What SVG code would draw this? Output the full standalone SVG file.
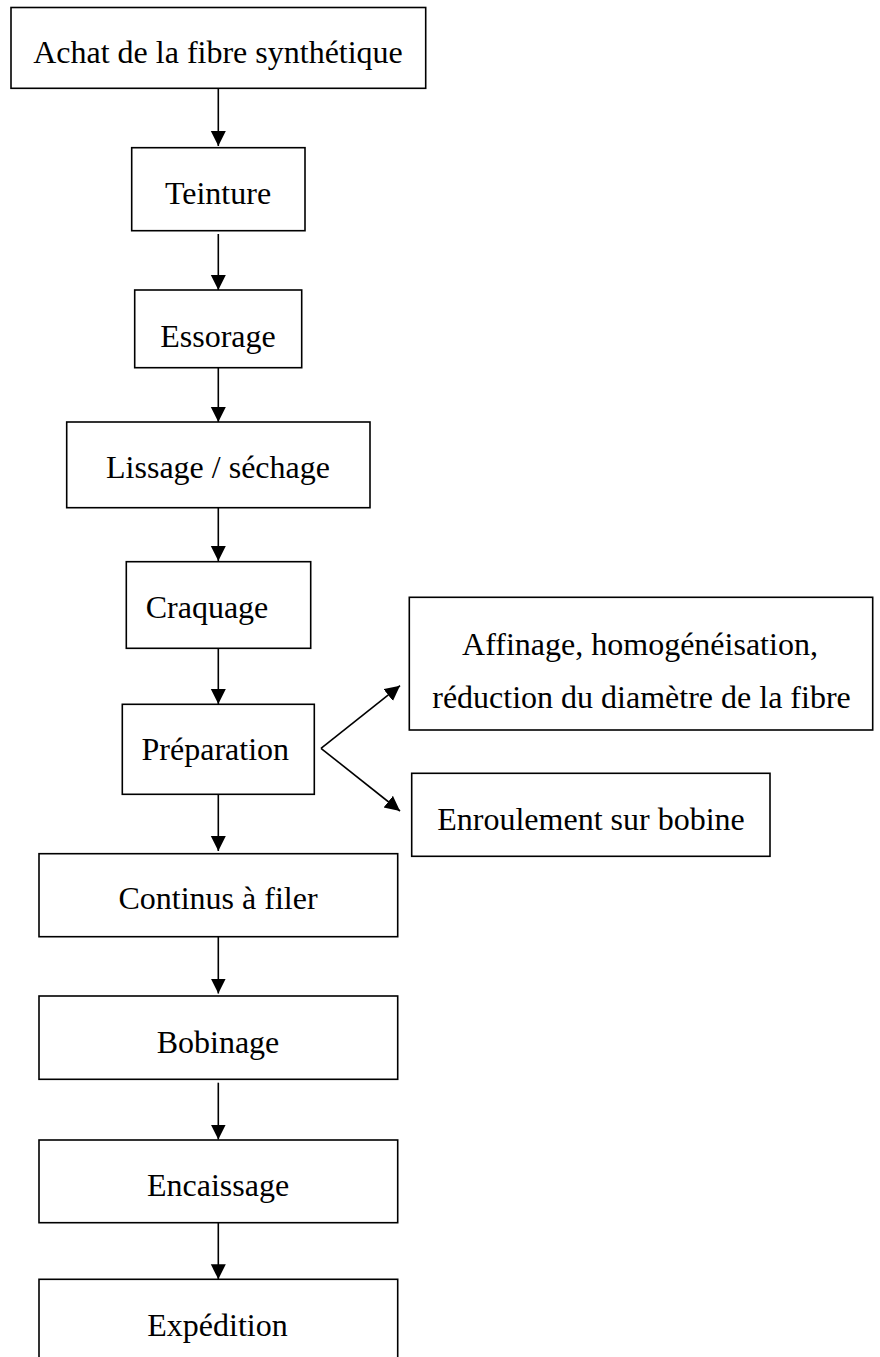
<svg xmlns="http://www.w3.org/2000/svg" width="880" height="1357" viewBox="0 0 880 1357">
<style>
.box{fill:#fff;stroke:#000;stroke-width:1.6}
.lbl{font-family:"Liberation Serif","Times New Roman",serif;font-size:32px;fill:#000;text-anchor:middle}
.con{stroke:#000;stroke-width:1.6;fill:none}
</style>
<defs>
<marker id="ah" markerUnits="userSpaceOnUse" markerWidth="16" markerHeight="16" viewBox="0 0 16 16" refX="15" refY="7.5" orient="auto">
<path d="M0,0 L15,7.5 L0,15 z" fill="#000"/>
</marker>
</defs>
<rect width="880" height="1357" fill="#fff"/>
<g id="connectors">
<line class="con" x1="218.3" y1="88.3" x2="218.3" y2="146" marker-end="url(#ah)"/>
<line class="con" x1="218.3" y1="234" x2="218.3" y2="290" marker-end="url(#ah)"/>
<line class="con" x1="218.3" y1="367.7" x2="218.3" y2="422" marker-end="url(#ah)"/>
<line class="con" x1="218.3" y1="505" x2="218.3" y2="561" marker-end="url(#ah)"/>
<line class="con" x1="218.3" y1="648.3" x2="218.3" y2="704" marker-end="url(#ah)"/>
<line class="con" x1="218.3" y1="794.3" x2="218.3" y2="851" marker-end="url(#ah)"/>
<line class="con" x1="218.3" y1="936.7" x2="218.3" y2="993.5" marker-end="url(#ah)"/>
<line class="con" x1="218.3" y1="1082.7" x2="218.3" y2="1139.5" marker-end="url(#ah)"/>
<line class="con" x1="218.3" y1="1222.7" x2="218.3" y2="1279.3" marker-end="url(#ah)"/>
<line class="con" x1="321" y1="748.3" x2="400" y2="685.7" marker-end="url(#ah)"/>
<line class="con" x1="321" y1="748.3" x2="400" y2="811" marker-end="url(#ah)"/>
</g>
<g id="n1"><rect class="box" x="11" y="7.5" width="414.7" height="80.8"/><text class="lbl" x="218" y="63">Achat de la fibre synthétique</text></g>
<g id="n2"><rect class="box" x="131.7" y="147.7" width="173.3" height="83"/><text class="lbl" x="218" y="204">Teinture</text></g>
<g id="n3"><rect class="box" x="134.7" y="290" width="167" height="77.7"/><text class="lbl" x="218" y="346.7">Essorage</text></g>
<g id="n4"><rect class="box" x="66.7" y="422" width="303.3" height="85.7"/><text class="lbl" x="218" y="477.7">Lissage / séchage</text></g>
<g id="n5"><rect class="box" x="126.3" y="561.7" width="184.4" height="86.6"/><text class="lbl" x="207" y="618.3">Craquage</text></g>
<g id="n6"><rect class="box" x="122.3" y="704.3" width="192" height="90"/><text class="lbl" x="215.3" y="760">Préparation</text></g>
<g id="n7"><rect class="box" x="409.3" y="597.3" width="463.4" height="132.7"/><text class="lbl" x="640" y="655">Affinage, homogénéisation,</text><text class="lbl" x="641.5" y="708.3">réduction du diamètre de la fibre</text></g>
<g id="n8"><rect class="box" x="411.7" y="773.3" width="358.3" height="83"/><text class="lbl" x="591" y="829.5">Enroulement sur bobine</text></g>
<g id="n9"><rect class="box" x="39" y="853.7" width="358.7" height="83"/><text class="lbl" x="218" y="909.3">Continus à filer</text></g>
<g id="n10"><rect class="box" x="39" y="996" width="358.7" height="83.3"/><text class="lbl" x="218" y="1052.7">Bobinage</text></g>
<g id="n11"><rect class="box" x="39" y="1140" width="358.7" height="82.7"/><text class="lbl" x="218" y="1196">Encaissage</text></g>
<g id="n12"><rect class="box" x="39" y="1279.3" width="358.7" height="100"/><text class="lbl" x="217.5" y="1336">Expédition</text></g>
</svg>
